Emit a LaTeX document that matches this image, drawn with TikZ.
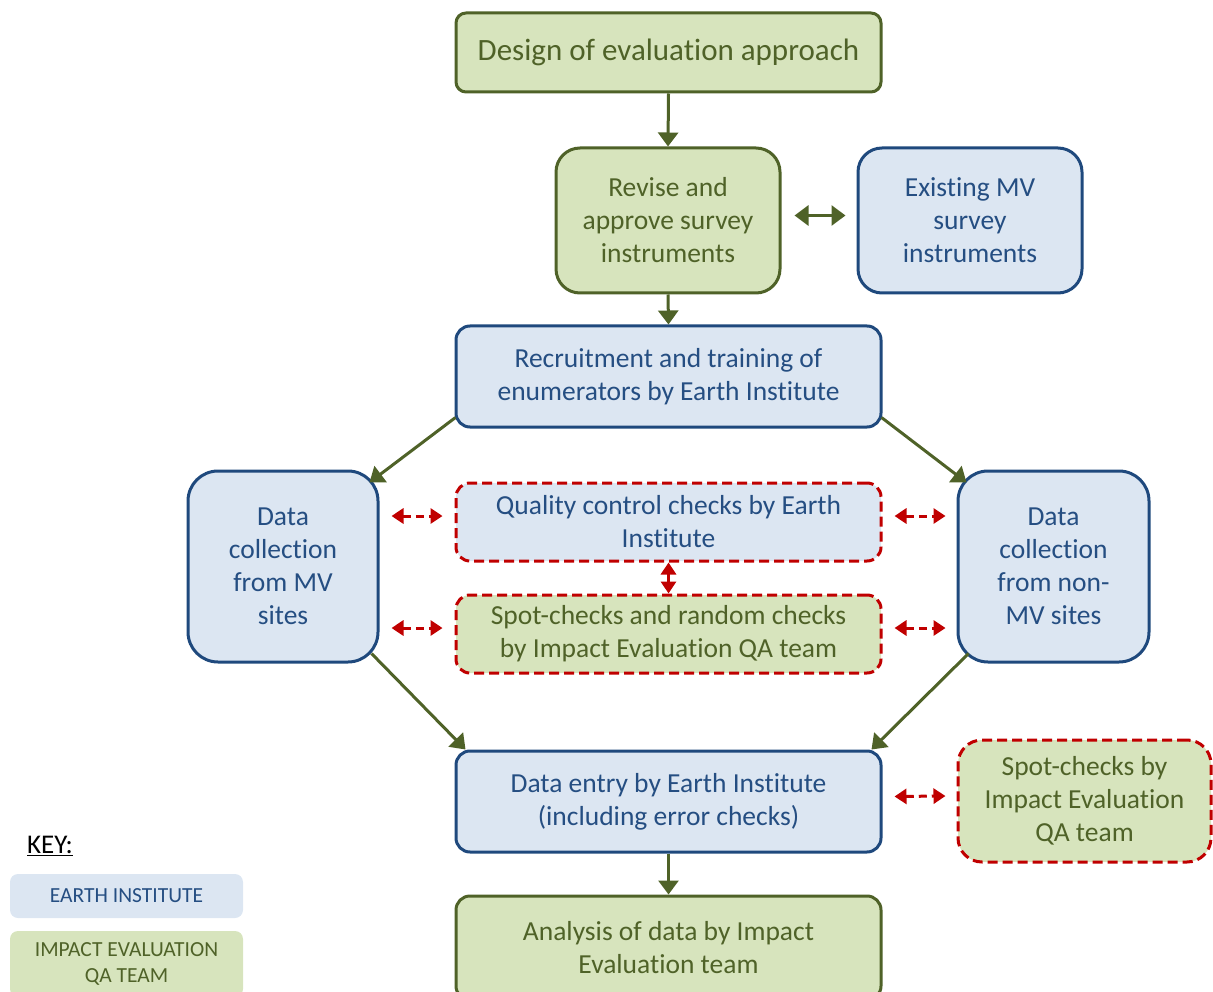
\documentclass[tikz,border=0pt]{standalone}
\usepackage{fontspec}
\setmainfont{Carlito}[Ligatures=NoCommon]
\usetikzlibrary{arrows.meta,calc}
\definecolor{gfill}{HTML}{D7E4BD}
\definecolor{gline}{HTML}{4F6228}
\definecolor{bfill}{HTML}{DCE6F2}
\definecolor{bline}{HTML}{1F497D}
\definecolor{btext}{HTML}{254E82}
\definecolor{rline}{HTML}{C00000}
\newcommand\bodyfont{\fontsize{27.5}{33}\selectfont}
\newcommand\titlefont{\fontsize{31}{33}\selectfont}
\newcommand\keyfont{\fontsize{21.5}{26}\selectfont}
\tikzset{
  box/.style={line width=3pt, align=center, inner sep=0pt, font=\bodyfont},
  gbox/.style={box, fill=gfill, draw=gline, text=gline},
  bbox/.style={box, fill=bfill, draw=bline, text=btext},
  rdash/.style={draw=rline, dash pattern=on 10pt off 5pt},
  garrow/.style={draw=gline, line width=3pt, -{Triangle[length=14pt,width=20pt]}},
  gdarrow/.style={draw=gline, line width=3pt, {Triangle[length=14pt,width=20pt]}-{Triangle[length=14pt,width=20pt]}},
  rdarrow/.style={draw=rline, line width=3pt, dash pattern=on 8pt off 5pt, {Triangle[length=12pt,width=15pt]}-{Triangle[length=12pt,width=15pt]}},
  rsarrow/.style={draw=rline, line width=3pt, {Triangle[length=12pt,width=15pt]}-{Triangle[length=12pt,width=15pt]}},
}
\begin{document}
\begin{tikzpicture}[x=1pt,y=-1pt]
\useasboundingbox (0,0) rectangle (1213,992);
\clip (0,0) rectangle (1213,992);

\node[gbox, font=\titlefont, rounded corners=10pt, minimum width=425pt, minimum height=79pt] (design) at (668.5,52.5) {Design of evaluation approach};
\node[gbox, rounded corners=24pt, minimum width=224pt, minimum height=145pt] (revise) at (668,220.5) {Revise and\\approve survey\\instruments};
\node[bbox, rounded corners=24pt, minimum width=224pt, minimum height=145pt] (exist) at (970,220.5) {Existing MV\\survey\\instruments};
\node[bbox, rounded corners=14pt, minimum width=425pt, minimum height=101pt] (recruit) at (668.5,376.5) {Recruitment and training of\\enumerators by Earth Institute};
\node[bbox, rounded corners=30pt, minimum width=190pt, minimum height=191pt] (mv) at (283,566.5) {Data\\collection\\from MV\\sites};
\node[bbox, rdash, rounded corners=14pt, minimum width=425pt, minimum height=78pt] (qc) at (668.5,522) {Quality control checks by Earth\\Institute};
\node[gbox, rdash, rounded corners=14pt, minimum width=425pt, minimum height=78pt] (spot) at (668.5,634) {Spot-checks and random checks\\by Impact Evaluation QA team};
\node[bbox, rounded corners=30pt, minimum width=191pt, minimum height=191pt] (nonmv) at (1053.5,566.5) {Data\\collection\\from non-\\MV sites};
\node[bbox, rounded corners=14pt, minimum width=425pt, minimum height=101pt] (entry) at (668.5,801.5) {Data entry by Earth Institute\\(including error checks)};
\node[gbox, rdash, rounded corners=24pt, minimum width=253pt, minimum height=122pt] (spotr) at (1084.5,801) {Spot-checks by\\Impact Evaluation\\QA team};
\node[gbox, rounded corners=14pt, minimum width=425pt, minimum height=104pt] (analysis) at (668.5,948) {Analysis of data by Impact\\Evaluation team};

% key
\node[font=\fontsize{27}{28}\selectfont, inner sep=0pt, anchor=west] (key) at (27,846) {\underline{KEY:}};
\node[fill=bfill, text=btext, font=\keyfont, rounded corners=8pt, minimum width=233pt, minimum height=44pt, inner sep=0pt] (keyei) at (126.5,896) {EARTH INSTITUTE};
\node[fill=gfill, text=gline, font=\keyfont, align=center, rounded corners=8pt, minimum width=233pt, minimum height=66pt, inner sep=0pt] (keyqa) at (126.5,964) {IMPACT EVALUATION\\QA TEAM};

% green arrows
\draw[garrow] (design.south) -- (revise.north);
\draw[garrow] (revise.south) -- (recruit.north);
\draw[garrow] (entry.south) -- (analysis.north);
\draw[gdarrow] ($(revise.east)+(13pt,5pt)$) -- ($(exist.west)+(-11pt,5pt)$);
\draw[garrow] ($(recruit.south west)+(1pt,11pt)$) -- ($(mv.north east)+(-10pt,-13pt)$);
\draw[garrow] ($(recruit.south east)+(-1pt,11pt)$) -- ($(nonmv.north west)+(10pt,-13pt)$);
\draw[garrow] ($(mv.south east)+(-8pt,10pt)$) -- ($(entry.north west)+(11pt,0pt)$);
\draw[garrow] ($(nonmv.south west)+(12pt,10pt)$) -- ($(entry.north east)+(-11pt,0pt)$);

% red arrows
\draw[rdarrow] ($(mv.east |- qc.west)+(12pt,6pt)$) -- ($(qc.west)+(-12pt,6pt)$);
\draw[rdarrow] ($(qc.east)+(12pt,6pt)$) -- ($(nonmv.west |- qc.east)+(-11pt,6pt)$);
\draw[rdarrow] ($(mv.east |- spot.west)+(12pt,6pt)$) -- ($(spot.west)+(-12pt,6pt)$);
\draw[rdarrow] ($(spot.east)+(12pt,6pt)$) -- ($(nonmv.west |- spot.east)+(-11pt,6pt)$);
\draw[rdarrow] ($(entry.east)+(12pt,5pt)$) -- ($(spotr.west)+(-11pt,5pt)$);
\draw[rsarrow] (qc.south) -- (spot.north);
\end{tikzpicture}
\end{document}
